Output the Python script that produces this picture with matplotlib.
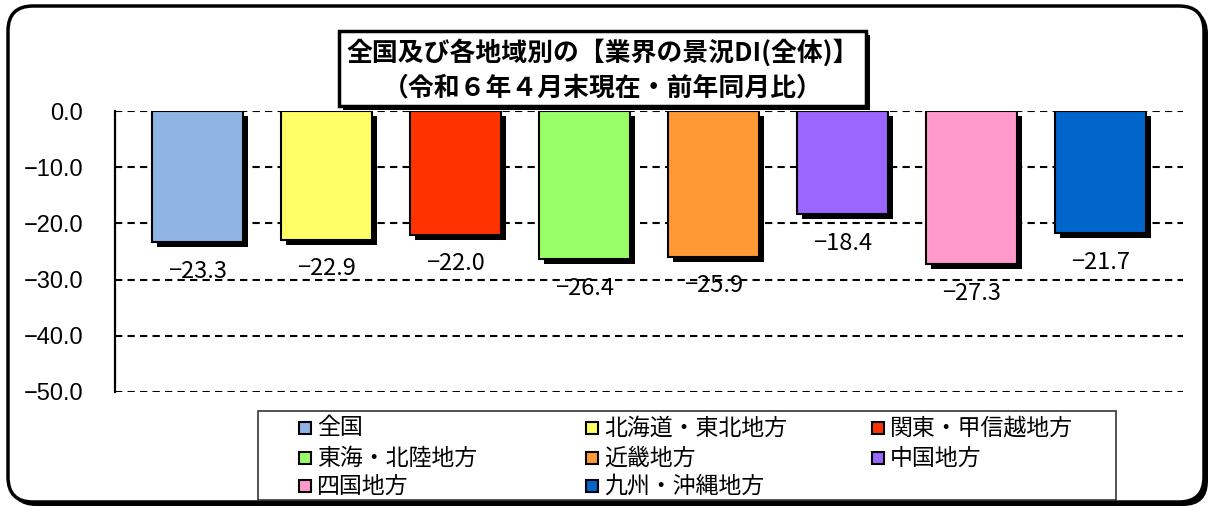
import matplotlib
matplotlib.use("Agg")
import matplotlib.pyplot as plt
from matplotlib.patches import FancyBboxPatch, Rectangle
from matplotlib.transforms import ScaledTranslation

plt.rcParams['font.family'] = ['Noto Sans CJK JP', 'DejaVu Sans']
plt.rcParams['axes.unicode_minus'] = True

# ---- data ----
categories = ["全国", "北海道・東北地方", "関東・甲信越地方", "東海・北陸地方",
              "近畿地方", "中国地方", "四国地方", "九州・沖縄地方"]
values = [-23.3, -22.9, -22.0, -26.4, -25.9, -18.4, -27.3, -21.7]
colors = ["#8EB4E3", "#FFFF66", "#FF3300", "#99FF66",
          "#FF9933", "#9966FF", "#FF99CC", "#0066CC"]
yticks = [0, -10, -20, -30, -40, -50]
title_lines = ["全国及び各地域別の【業界の景況DI(全体)】",
               "（令和６年４月末現在・前年同月比）"]

W, H = 1210, 508
fig = plt.figure(figsize=(W / 100, H / 100), dpi=100)
inch = fig.dpi_scale_trans


def box(x0, y0, x1, y1):
    """rectangle given in pixel coords (top-left origin) -> inches"""
    return (x0 / 100, (H - y1) / 100, (x1 - x0) / 100, (y1 - y0) / 100)


# ---- outer rounded frame with shadow ----
x, y, w, h = box(11, 9, 1208, 506)
fig.add_artist(FancyBboxPatch((x, y), w, h, boxstyle="round,pad=0,rounding_size=0.25",
                              transform=inch, facecolor="black", edgecolor="black",
                              lw=0, zorder=-10))
x, y, w, h = box(8, 6, 1204, 502)
fig.add_artist(FancyBboxPatch((x, y), w, h, boxstyle="round,pad=0,rounding_size=0.25",
                              transform=inch, facecolor="white", edgecolor="black",
                              lw=2.5, zorder=-9))

# ---- axes ----
ax = fig.add_axes([115 / W, 1 - 392 / H, (1183 - 115) / W, (392 - 111) / H])
ax.patch.set_visible(False)
xs = list(range(len(categories)))
bw = 0.71

shadow_tr = ax.transData + ScaledTranslation(5 / 100, -5 / 100, inch)
ax.bar(xs, values, width=bw, color="black", lw=0, zorder=2, transform=shadow_tr)
ax.bar(xs, values, width=bw, color=colors, edgecolor="black", lw=1.5, zorder=3)

for i, v in enumerate(values):
    ax.annotate(f"{v:.1f}".replace("-", "\u2212"), xy=(i, v), xytext=(0, -21),
                textcoords="offset points", ha="center", va="center",
                fontsize=17, zorder=4, annotation_clip=False)

ax.set_xlim(-0.640, 7.641)
ax.set_ylim(-50, 0)
ax.set_yticks(yticks)
ax.set_yticklabels([f"{t:.1f}".replace("-", "\u2212") for t in yticks],
                   family=["Liberation Sans", "DejaVu Sans"], fontsize=17)
ax.tick_params(axis="y", length=0, pad=23)
ax.set_xticks([])
ax.yaxis.grid(True, linestyle=(0, (3.5, 2.5)), color="black", lw=1.5, zorder=1)
ax.set_axisbelow(True)
for s in ["top", "right", "bottom"]:
    ax.spines[s].set_visible(False)
ax.spines["left"].set_linewidth(1.6)
ax.spines["left"].set_zorder(5)

# ---- title box ----
x, y, w, h = box(343, 35, 870, 110)
fig.add_artist(Rectangle((x, y), w, h, transform=inch, facecolor="black",
                         lw=0, zorder=6))
x, y, w, h = box(339, 31, 866, 106)
fig.add_artist(Rectangle((x, y), w, h, transform=inch, facecolor="white",
                         edgecolor="black", lw=2.5, zorder=7))
fig.text(603 / W, 1 - 53 / H, title_lines[0], ha="center", va="center",
         fontsize=18.6, fontweight="bold", zorder=8)
fig.text(603 / W, 1 - 88 / H, title_lines[1], ha="center", va="center",
         fontsize=18.6, fontweight="bold", zorder=8)

# ---- legend ----
x, y, w, h = box(258, 411, 1116, 500)
fig.add_artist(Rectangle((x, y), w, h, transform=inch, facecolor="white",
                         edgecolor="#333333", lw=1.2, zorder=6))
col_x = [299, 586, 872]
row_y = [428, 458, 486]
for i, (cat, c) in enumerate(zip(categories, colors)):
    mx = col_x[i % 3]
    my = row_y[i // 3]
    x, y, w, h = box(mx, my - 6, mx + 12, my + 6)
    fig.add_artist(Rectangle((x, y), w, h, transform=inch, facecolor=c,
                             edgecolor="black", lw=1.5, zorder=7))
    fig.text((mx + 18) / W, 1 - my / H, cat, ha="left", va="center",
             fontsize=16.5, zorder=8)

fig.savefig("out.png", dpi=100)
